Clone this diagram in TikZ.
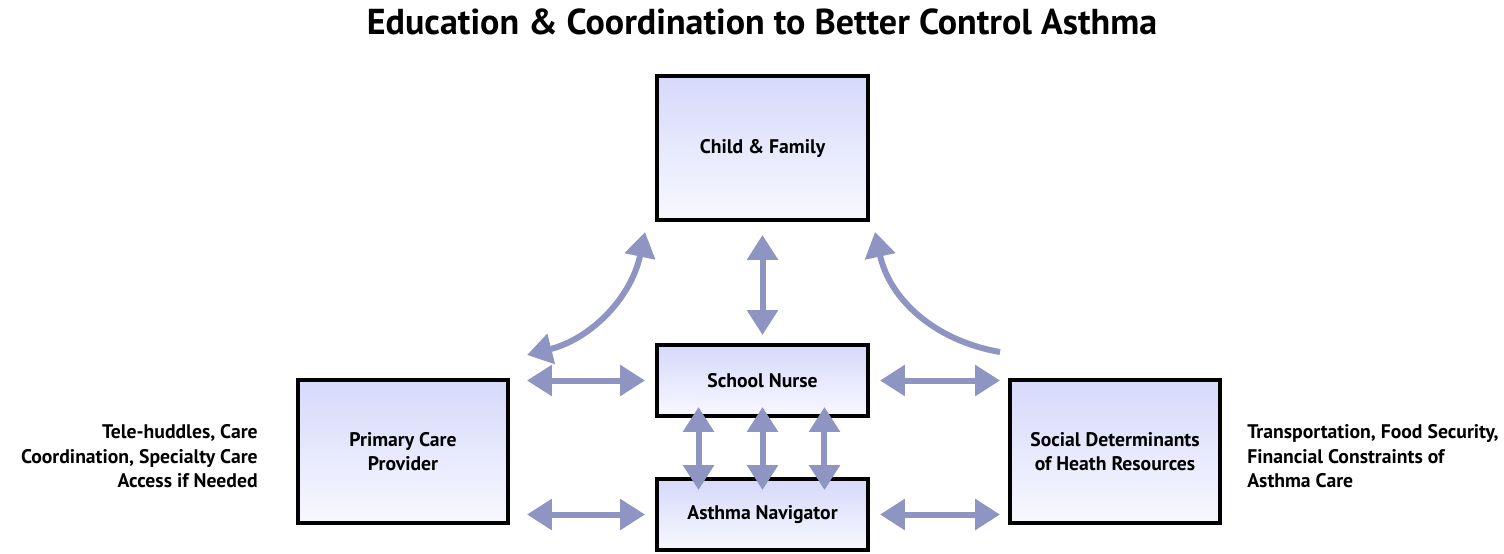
\documentclass[tikz,border=0pt]{standalone}
\usepackage{fontspec}
\setmainfont{PT Sans}
\usetikzlibrary{arrows.meta,positioning}

\definecolor{linkcol}{HTML}{8E95C2}
\definecolor{boxtop}{HTML}{D6D9FA}
\definecolor{boxbot}{HTML}{F8F8FF}

\tikzset{
  box/.style={draw=black, line width=0.08cm, top color=boxtop, bottom color=boxbot,
    align=center, inner sep=0pt, font=\bfseries\fontsize{11.2}{14}\selectfont},
  link/.style={draw=linkcol, line width=0.12cm,
    {Triangle[length=0.5cm,width=0.6cm]}-{Triangle[length=0.5cm,width=0.6cm]}},
  oneway/.style={draw=linkcol, line width=0.12cm, -{Triangle[length=0.5cm,width=0.6cm]}},
  note/.style={inner sep=0pt, font=\bfseries\fontsize{11.2}{14}\selectfont}
}

\begin{document}
\begin{tikzpicture}[x=0.02cm,y=-0.02cm]
  \useasboundingbox (0,0) rectangle (1504,554);

  % title
  \node[font=\bfseries\fontsize{20.5}{24}\selectfont] (title) at (762,22)
    {Education \& Coordination to Better Control Asthma};

  % boxes
  \node[box, minimum width=4.22cm, minimum height=2.88cm] (child) at (762.5,148) {Child \& Family};
  \node[box, minimum width=4.22cm, minimum height=1.42cm] (nurse) at (762.5,380.5) {School Nurse};
  \node[box, minimum width=4.22cm, minimum height=1.42cm] (nav) at (762.5,514.5) {Asthma Navigator};
  \node[box, minimum width=4.2cm, minimum height=2.86cm] (prim) at (403,451.5) {Primary Care\\Provider};
  \node[box, minimum width=4.2cm, minimum height=2.86cm] (soc) at (1115,451.5) {Social Determinants\\of Heath Resources};

  % side notes
  \node[note, align=right, left=0.76cm of prim, yshift=-0.1cm] (primnote)
    {Tele-huddles, Care\\Coordination, Specialty Care\\Access if Needed};
  \node[note, align=left, right=0.5cm of soc, yshift=-0.1cm] (socnote)
    {Transportation, Food Security,\\Financial Constraints of\\Asthma Care};

  % arrows
  \draw[link, shorten <=0.26cm, shorten >=0.16cm] (child.south) -- (nurse.north);
  \foreach \dx in {-1.28,0,1.24}
    \draw[link, shorten <=-0.22cm, shorten >=-0.26cm] ([xshift=\dx cm]nurse.south) -- ([xshift=\dx cm]nav.north);
  \draw[link, shorten <=0.34cm, shorten >=0.2cm] (prim.east |- nurse.west) -- (nurse.west);
  \draw[link, shorten <=0.34cm, shorten >=0.2cm] (prim.east |- nav.west) -- (nav.west);
  \draw[link, shorten <=0.2cm, shorten >=0.16cm] (nurse.east) -- (soc.west |- nurse.east);
  \draw[link, shorten <=0.2cm, shorten >=0.16cm] (nav.east) -- (soc.west |- nav.east);
  \draw[link] ([shift={(17,-23)}]prim.north east) to[bend right=32] ([shift={(-10,10)}]child.south west);
  \draw[oneway] ([shift={(-8,-26)}]soc.north west) to[bend left=34] ([shift={(5,10)}]child.south east);
\end{tikzpicture}
\end{document}
